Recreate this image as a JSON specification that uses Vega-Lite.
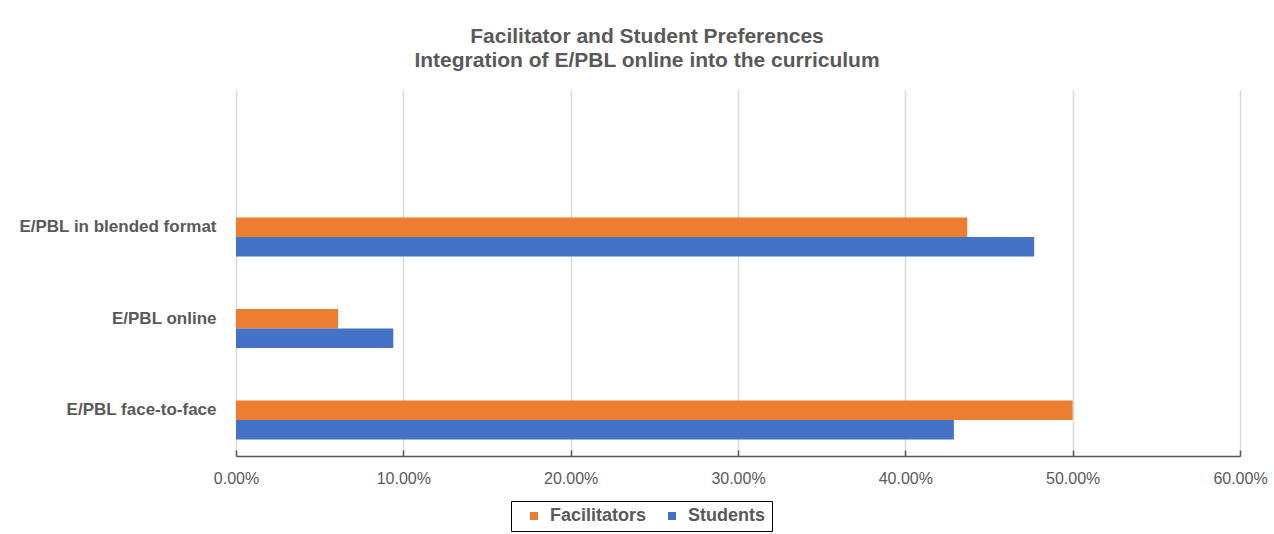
{
  "$schema": "https://vega.github.io/schema/vega-lite/v6.json",
  "width": 1004,
  "height": 366,
  "autosize": {"type": "none"},
  "padding": {"left": 236, "top": 90, "right": 34, "bottom": 78},
  "background": "white",
  "title": {
    "text": ["Facilitator and Student Preferences", "Integration of E/PBL online into the curriculum"],
    "font": "Liberation Sans",
    "fontSize": 21,
    "fontWeight": "bold",
    "color": "#595959",
    "anchor": "middle",
    "dx": -91,
    "offset": 19,
    "lineHeight": 24
  },
  "data": {
    "values": [
      {"category": "E/PBL in blended format", "series": "Facilitators", "value": 0.437},
      {"category": "E/PBL in blended format", "series": "Students", "value": 0.477},
      {"category": "E/PBL online", "series": "Facilitators", "value": 0.061},
      {"category": "E/PBL online", "series": "Students", "value": 0.094},
      {"category": "E/PBL face-to-face", "series": "Facilitators", "value": 0.500},
      {"category": "E/PBL face-to-face", "series": "Students", "value": 0.429}
    ]
  },
  "mark": {"type": "bar"},
  "encoding": {
    "y": {
      "field": "category",
      "type": "nominal",
      "scale": {
        "domain": [" ", "E/PBL in blended format", "E/PBL online", "E/PBL face-to-face"],
        "paddingInner": 0,
        "paddingOuter": 0
      },
      "axis": {
        "title": null,
        "domain": false,
        "ticks": false,
        "labelPadding": 20,
        "labelFont": "Liberation Sans",
        "labelFontSize": 17,
        "labelFontWeight": "bold",
        "labelColor": "#595959",
        "labelLimit": 300
      }
    },
    "yOffset": {
      "field": "series",
      "scale": {"domain": ["Blank", "Facilitators", "Students"], "paddingInner": 0, "paddingOuter": 0.85}
    },
    "x": {
      "field": "value",
      "type": "quantitative",
      "scale": {"domain": [0, 0.6], "nice": false},
      "axis": {
        "title": null,
        "values": [0, 0.1, 0.2, 0.3, 0.4, 0.5, 0.6],
        "format": ".2%",
        "grid": true,
        "gridColor": "#d9d9d9",
        "gridWidth": 1.5,
        "domainColor": "#595959",
        "domainWidth": 1.5,
        "tickColor": "#595959",
        "tickSize": -6,
        "tickWidth": 1.5,
        "labelPadding": 20,
        "labelFlush": false,
        "labelOverlap": false,
        "labelFont": "Liberation Sans",
        "labelFontSize": 16,
        "labelColor": "#595959"
      }
    },
    "color": {
      "field": "series",
      "type": "nominal",
      "scale": {"domain": ["Facilitators", "Students"], "range": ["#ED7D31", "#4472C4"]},
      "legend": {
        "title": null,
        "orient": "none",
        "legendX": 275,
        "legendY": 411,
        "direction": "horizontal",
        "symbolType": "square",
        "symbolSize": 64,
        "symbolStrokeWidth": 0,
        "labelFont": "Liberation Sans",
        "labelFontSize": 18,
        "labelFontWeight": "bold",
        "labelColor": "#595959",
        "strokeColor": "#000000",
        "padding": 6,
        "symbolOffset": 8,
        "labelOffset": 7,
        "columnPadding": 8,
        "gridAlign": "all"
      }
    }
  },
  "config": {"view": {"stroke": null}}
}
